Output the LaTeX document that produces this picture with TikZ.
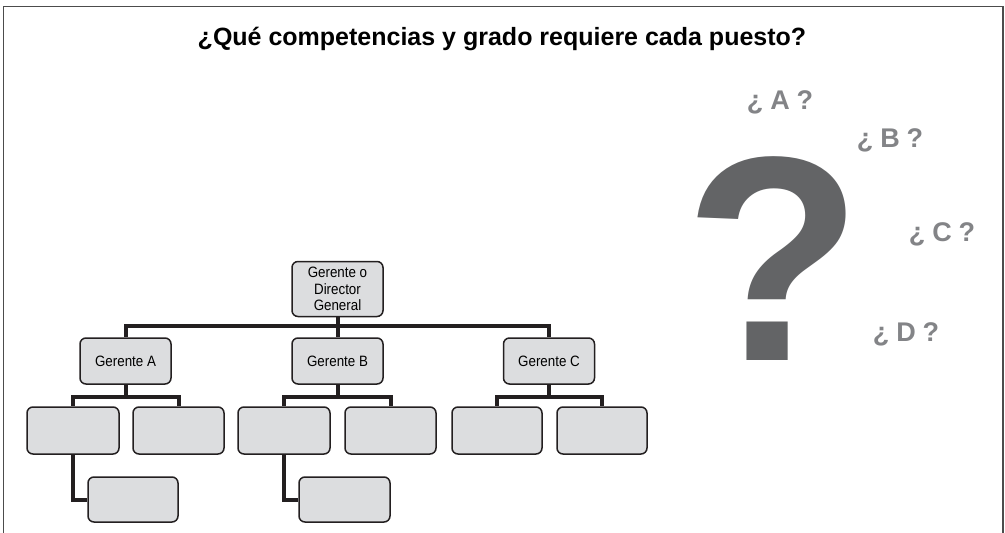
\documentclass[tikz,border=0pt]{standalone}
\usepackage{fontspec}
\setmainfont{Liberation Sans}
\newfontfamily\narrowsans[FakeStretch=0.89]{Liberation Sans}
\usepackage{xcolor}
\usepackage{tikz}
\usetikzlibrary{positioning,calc}

\definecolor{boxfill}{HTML}{DCDDDF}
\definecolor{inkline}{HTML}{231F20}
\definecolor{qdark}{HTML}{636466}
\definecolor{qlight}{HTML}{838487}

\begin{document}
\begin{tikzpicture}[
    x=1pt, y=-1pt,
    orgbox/.style={rectangle, rounded corners=6pt, draw=inkline, line width=1.5pt,
        fill=boxfill, minimum width=91pt, minimum height=46pt, inner sep=2pt,
        font=\narrowsans\fontsize{15}{16.5}\selectfont, align=center},
    link/.style={draw=inkline, line width=4pt},
    qtag/.style={text=qlight, font=\fontsize{27}{30}\selectfont\bfseries}
]
    \useasboundingbox (0,0) rectangle (1005,533);
    % frame
    \draw[line width=1.5pt, draw=black!70] (3.5,533) |- (1003,6.5) -- (1003,533);

    % title
    \node[anchor=base, font=\fontsize{25}{28}\selectfont\bfseries] (title) at (502,45)
        {¿Qué competencias y grado requiere cada puesto?};

    % Top level
    \node[orgbox, minimum height=55pt] (dg) at (337.5,289) {Gerente o\\Director\\General};
    \coordinate (bus) at (337.5,326);

    % Gerentes
    \node[orgbox] (ga) at (125.5,361) {Gerente A};
    \node[orgbox] (gb) at (337.5,361) {Gerente B};
    \node[orgbox] (gc) at (549,361) {Gerente C};

    \draw[link] (dg) -- (bus);
    \draw[link] (bus) -| (ga);
    \draw[link] (bus) -| (gc);
    \draw[link] (bus) -- (gb);

    % Second level
    \node[orgbox, minimum width=92pt, minimum height=47pt] (a1) at (73,430.5) {};
    \node[orgbox, minimum height=47pt] (a2) at (178.5,430.5) {};
    \node[orgbox, minimum width=92pt, minimum height=47pt] (b1) at (284,430.5) {};
    \node[orgbox, minimum height=47pt] (b2) at (390.5,430.5) {};
    \node[orgbox, minimum width=90pt, minimum height=47pt] (c1) at (497,430.5) {};
    \node[orgbox, minimum width=90pt, minimum height=47pt] (c2) at (602,430.5) {};

    \coordinate (busa) at (125.5,397);
    \coordinate (busb) at (337.5,397);
    \coordinate (busc) at (549,397);

    \draw[link] (ga) -- (busa);
    \draw[link] (busa) -| (a1);
    \draw[link] (busa) -| (a2);
    \draw[link] (gb) -- (busb);
    \draw[link] (busb) -| (b1);
    \draw[link] (busb) -| (b2);
    \draw[link] (gc) -- (busc);
    \draw[link] (busc) -| (c1);
    \draw[link] (busc) -| (c2);

    % Third level
    \node[orgbox, minimum width=90pt, minimum height=45pt] (a3) at (133,499.5) {};
    \node[orgbox, minimum width=91pt, minimum height=45pt] (b3) at (344.5,499.5) {};

    \draw[link] (a1.south) |- (a3.west);
    \draw[link] (b1.south) |- (b3.west);

    % question marks
    \node[text=qdark, font=\fontsize{292}{292}\selectfont\bfseries, inner sep=0pt,
        anchor=base] (bigq) at (774,360) {?};
    \node[qtag] (qa) at (780,102) {¿\hspace{7pt}A\hspace{7pt}?};
    \node[qtag] (qb) at (890,140) {¿\hspace{7pt}B\hspace{7pt}?};
    \node[qtag] (qc) at (942,234) {¿\hspace{7pt}C\hspace{7pt}?};
    \node[qtag] (qd) at (906,334) {¿\hspace{7pt}D\hspace{7pt}?};
\end{tikzpicture}
\end{document}
